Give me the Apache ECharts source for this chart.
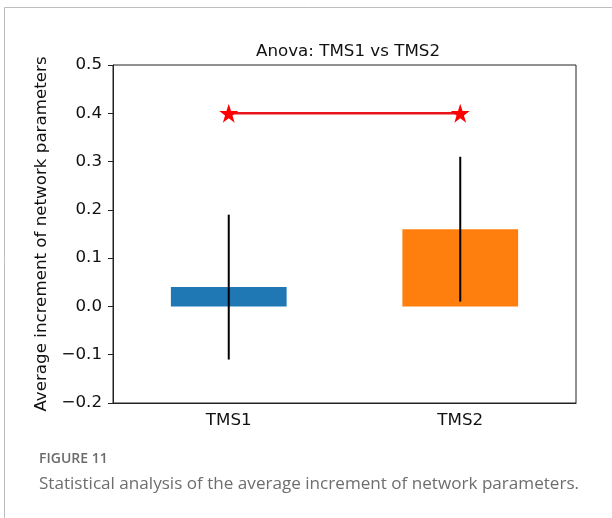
<!DOCTYPE html>
<html>
<head>
<meta charset="utf-8">
<script src="https://cdn.jsdelivr.net/npm/echarts@6/dist/echarts.min.js"></script>
<style>
  html, body { margin: 0; padding: 0; background: #fff; }
  #chart { width: 612px; height: 518px; }
</style>
</head>
<body>
<div id="chart"></div>
<script>
// Group names and their mean increments with error half-widths
const categories = ['TMS1', 'TMS2'];
const means = [0.04, 0.16];
const errors = [0.15, 0.15];
const barColors = ['#1f77b4', '#ff7f0e'];
// Significance bracket level
const sigLevel = [0.4, 0.4];
const yTicks = { min: -0.2, max: 0.5, step: 0.1 };

const starPath = 'path://M50,0 L61.8,35.4 L99,35.4 L69,57.3 L80.4,92.7 L50,70.8 L19.6,92.7 L31,57.3 L1,35.4 L38.2,35.4 Z';
const fontMain = 'DejaVu Sans';
const fs = 16.7;

const chart = echarts.init(document.getElementById('chart'), null, { renderer: 'canvas' });

chart.setOption({
  animation: false,
  backgroundColor: '#fff',
  title: {
    text: 'Anova: TMS1 vs TMS2',
    left: 343, top: 38, textAlign: 'center',
    textStyle: { fontFamily: fontMain, fontSize: fs, fontWeight: 'normal', color: '#111' }
  },
  grid: {
    left: 113, top: 65, width: 463, height: 338,
    show: true, borderColor: '#222', borderWidth: 1, backgroundColor: 'transparent'
  },
  xAxis: {
    type: 'category',
    data: categories,
    axisLine: { onZero: false, lineStyle: { color: '#222', width: 1 } },
    axisTick: { alignWithLabel: true, length: 5, lineStyle: { color: '#222' } },
    axisLabel: { fontFamily: fontMain, fontSize: fs, color: '#111', margin: 9 }
  },
  yAxis: {
    type: 'value',
    min: yTicks.min, max: yTicks.max, interval: yTicks.step,
    name: 'Average increment of network parameters',
    nameLocation: 'middle', nameGap: 56,
    nameTextStyle: { fontFamily: fontMain, fontSize: fs, color: '#111' },
    splitLine: { show: false },
    axisLine: { show: true, onZero: false, lineStyle: { color: '#222', width: 1 } },
    axisTick: { show: true, length: 5, lineStyle: { color: '#222' } },
    axisLabel: {
      fontFamily: fontMain, fontSize: fs, color: '#111', margin: 11,
      formatter: v => {
        const s = Math.abs(v).toFixed(1);
        return v < -1e-9 ? '\u2212' + s : s;
      }
    }
  },
  series: [
    {
      type: 'bar',
      barWidth: '50%',
      data: means.map((v, i) => ({ value: v, itemStyle: { color: barColors[i] } })),
      z: 2
    },
    {
      type: 'custom',
      z: 3,
      data: means.map((m, i) => [i, m - errors[i], m + errors[i]]),
      renderItem: (params, api) => {
        const lo = api.coord([api.value(0), api.value(1)]);
        const hi = api.coord([api.value(0), api.value(2)]);
        return {
          type: 'line',
          shape: { x1: lo[0], y1: lo[1], x2: hi[0], y2: hi[1] },
          style: { stroke: '#000', lineWidth: 2 }
        };
      }
    },
    {
      type: 'line',
      data: sigLevel,
      symbol: starPath,
      symbolSize: 19,
      lineStyle: { color: '#e8141a', width: 2.5 },
      itemStyle: { color: '#ff0000', borderWidth: 0 },
      z: 4
    }
  ],
  graphic: [
    {
      type: 'rect',
      shape: { x: 4.5, y: 7.5, width: 640, height: 560 },
      style: { fill: 'none', stroke: '#bdbdbd', lineWidth: 1 },
      silent: true
    },
    {
      type: 'text', left: 39, top: 452,
      style: { text: 'FIGURE 11', fontFamily: 'Open Sans', fontSize: 14, fontWeight: 600, fill: '#6b6b6b' }
    },
    {
      type: 'text', left: 39, top: 476,
      style: { text: 'Statistical analysis of the average increment of network parameters.', fontFamily: 'Open Sans', fontSize: 17.1, fill: '#6e6e6e' }
    }
  ]
});
</script>
</body>
</html>
